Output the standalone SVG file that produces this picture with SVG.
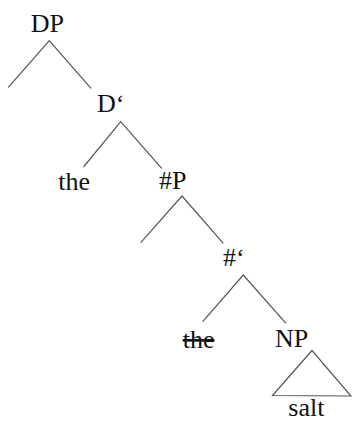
<svg xmlns="http://www.w3.org/2000/svg" width="352" height="421" viewBox="0 0 352 421">
<style>
text{font-family:"Liberation Serif","Times New Roman",serif;font-size:26px;fill:#111}
.e{fill:none;stroke:#555;stroke-width:1.2}
.strike{text-decoration:line-through}
</style>
<rect width="352" height="421" fill="#fff"/>
<g id="connectors">
<polyline class="e" points="8.3,87.3 49.3,40.7 91,88.3"/>
<polyline class="e" points="83.5,167 120.7,121.7 161.7,168.3"/>
<polyline class="e" points="140.7,242.7 182,196 223.3,243.3"/>
<polyline class="e" points="202.7,321.7 243.3,275 286,323.3"/>
<polygon class="e" points="312,350.5 272.5,395.5 351,396"/>
</g>
<g id="DP"><text x="30.7" y="31.5">DP</text></g>
<g id="Dbar"><text x="97" y="111.5">D‘</text></g>
<g id="the1"><text x="58.3" y="189.5">the</text></g>
<g id="NumP"><text x="159" y="189.3">#P</text></g>
<g id="Numbar"><text x="223" y="266">#‘</text></g>
<g id="the2"><text class="strike" x="182.7" y="348">the</text></g>
<g id="NP"><text x="275" y="347">NP</text></g>
<g id="salt"><text x="288.3" y="415.5">salt</text></g>
</svg>
